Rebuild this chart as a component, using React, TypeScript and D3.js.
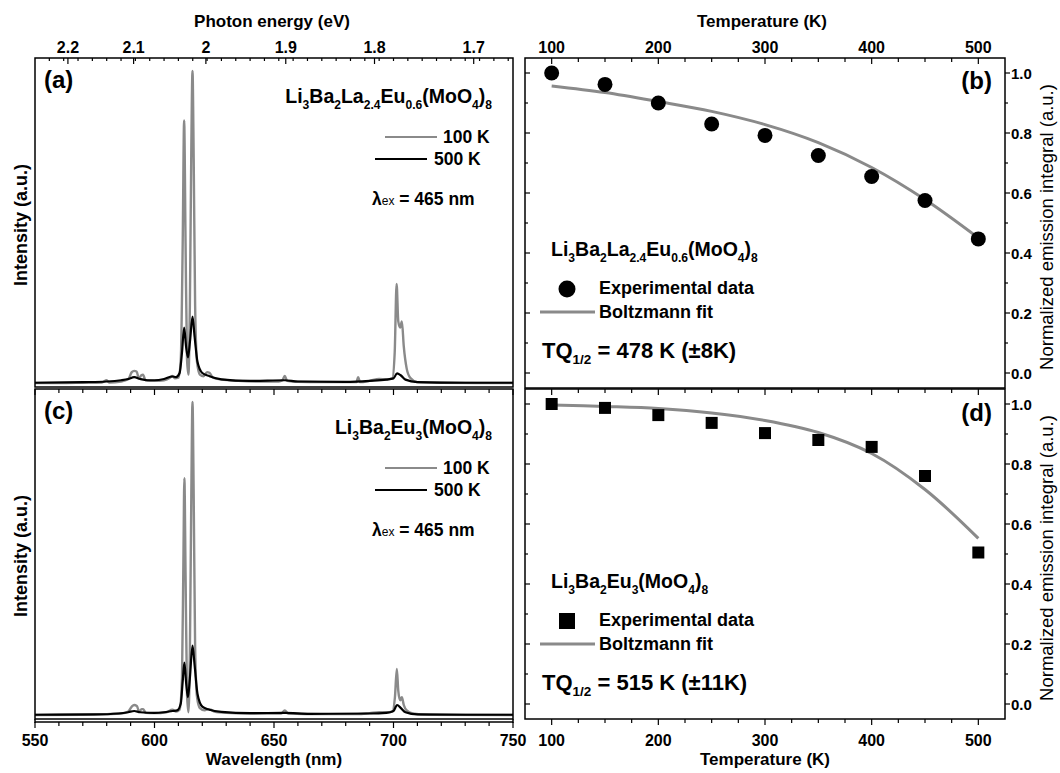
import React from "react";
import * as d3 from "d3";

const W = 1060;
const H = 773;
const FONT = "'Liberation Sans', Arial, sans-serif";
const GRAY = "#8a8a8a";

// emission spectra, [wavelength nm, normalized intensity]
const specA100: [number, number][] = [
  [550, 0.003], [560, 0.003], [570, 0.004], [578, 0.005], [580, 0.012], [581, 0.005],
  [586, 0.008], [589, 0.015], [590.5, 0.038], [591.5, 0.042], [592.5, 0.04], [593.5, 0.018],
  [594.5, 0.028], [595.2, 0.03], [596.2, 0.012], [600, 0.01], [604, 0.012], [606.5, 0.02],
  [607.5, 0.026], [608.5, 0.018], [610, 0.02], [611, 0.08], [611.8, 0.45], [612.4, 0.842],
  [613, 0.45], [613.6, 0.08], [614.2, 0.03], [614.8, 0.25], [615.4, 0.75], [615.9, 1.0],
  [616.4, 0.72], [617, 0.25], [617.8, 0.07], [619, 0.03], [620.5, 0.025], [622, 0.038],
  [623, 0.036], [624.5, 0.02], [628, 0.014], [635, 0.01], [645, 0.008], [652, 0.008],
  [653.5, 0.012], [654.5, 0.026], [655.5, 0.01], [660, 0.007], [670, 0.006], [680, 0.006],
  [684.5, 0.006], [685.2, 0.022], [686, 0.006], [690, 0.01], [694, 0.016], [697, 0.015],
  [699.5, 0.018], [700.5, 0.1], [701.3, 0.32], [702, 0.2], [702.8, 0.18], [703.5, 0.2],
  [704.3, 0.12], [705.5, 0.05], [707, 0.02], [710, 0.006], [720, 0.004], [735, 0.003], [750, 0.003],
];
const specA500: [number, number][] = [
  [550, 0.004], [570, 0.006], [580, 0.008], [586, 0.012], [589, 0.016], [591.5, 0.022],
  [594, 0.016], [597, 0.012], [600, 0.012], [604, 0.016], [607.5, 0.024], [609, 0.022],
  [610.5, 0.035], [611.5, 0.1], [612.4, 0.18], [613.2, 0.12], [614, 0.085], [614.9, 0.14],
  [615.9, 0.215], [616.8, 0.15], [618, 0.07], [620, 0.035], [623, 0.025], [628, 0.015],
  [640, 0.01], [654.5, 0.012], [660, 0.008], [680, 0.007], [690, 0.01], [697, 0.014],
  [700, 0.018], [701.5, 0.034], [703, 0.028], [705, 0.014], [710, 0.006], [730, 0.004], [750, 0.004],
];
const specC100: [number, number][] = [
  [550, 0.003], [570, 0.004], [580, 0.006], [586, 0.008], [589, 0.014], [590.5, 0.03],
  [591.5, 0.035], [592.6, 0.032], [593.6, 0.014], [594.6, 0.022], [595.3, 0.022], [596.3, 0.01],
  [600, 0.009], [605, 0.012], [607.5, 0.02], [609, 0.014], [610.5, 0.02], [611.5, 0.12],
  [612.1, 0.5], [612.5, 0.757], [613, 0.45], [613.6, 0.07], [614.2, 0.012], [614.8, 0.2],
  [615.4, 0.7], [615.9, 1.0], [616.4, 0.7], [617, 0.22], [617.8, 0.06], [619, 0.025],
  [621, 0.018], [622.5, 0.022], [623.5, 0.02], [625, 0.014], [630, 0.01], [640, 0.008],
  [653, 0.008], [654.5, 0.018], [656, 0.008], [670, 0.006], [685, 0.006], [690, 0.009],
  [694, 0.012], [697, 0.012], [699.5, 0.014], [700.6, 0.06], [701.4, 0.15], [702, 0.08],
  [702.8, 0.05], [703.5, 0.06], [704.3, 0.035], [705.5, 0.018], [708, 0.008], [715, 0.004], [750, 0.003],
];
const specC500: [number, number][] = [
  [550, 0.004], [575, 0.005], [585, 0.008], [589, 0.012], [591.5, 0.016], [594, 0.012],
  [600, 0.01], [604, 0.012], [607.5, 0.016], [609.5, 0.018], [611, 0.04], [611.8, 0.11],
  [612.5, 0.17], [613.3, 0.1], [614, 0.06], [614.8, 0.12], [615.9, 0.224], [616.8, 0.16],
  [618, 0.07], [620, 0.03], [623, 0.02], [628, 0.013], [640, 0.009], [654.5, 0.01],
  [665, 0.007], [690, 0.008], [697, 0.01], [700, 0.016], [701.5, 0.035], [703, 0.026],
  [705, 0.012], [710, 0.005], [730, 0.004], [750, 0.004],
];

// thermal quenching
const temps = [100, 150, 200, 250, 300, 350, 400, 450, 500];
const intB = [1.0, 0.962, 0.9, 0.83, 0.792, 0.725, 0.655, 0.575, 0.447];
const intD = [1.0, 0.987, 0.963, 0.937, 0.903, 0.88, 0.857, 0.76, 0.505];
const fitB = [0.957, 0.935, 0.905, 0.872, 0.828, 0.768, 0.685, 0.578, 0.45];
const fitD = [0.997, 0.992, 0.985, 0.97, 0.945, 0.905, 0.835, 0.715, 0.552];

const wlTicks = [550, 600, 650, 700, 750];
const energyTicks = [2.2, 2.1, 2.0, 1.9, 1.8, 1.7];
const energyLabels = ["2.2", "2.1", "2", "1.9", "1.8", "1.7"];
const tempTicks = [100, 200, 300, 400, 500];
const normTicks = [0, 0.2, 0.4, 0.6, 0.8, 1.0];

// layout
const LX = [35, 513];
const RX = [525, 1005];
const TOP = [58, 387];
const BOT = [389, 719];

const xW = d3.scaleLinear().domain([550, 750]).range(LX);
// top axis positions calibrated from the figure
const xE = (e: number) => xW(1270 / e - 13.5);
const xT = d3.scaleLinear().domain([75, 525]).range(RX);
const yB = d3.scaleLinear().domain([-0.05, 1.05]).range([388, 58]);
const yD = d3.scaleLinear().domain([-0.05, 1.05]).range([719, 389]);
const yA = d3.scaleLinear().domain([0, 1]).range([384, 71]);
const yC = d3.scaleLinear().domain([0, 1]).range([716, 402]);

const specLine = (ys: d3.ScaleLinear<number, number>) =>
  d3.line<[number, number]>().x((d) => xW(d[0])).y((d) => ys(d[1])).curve(d3.curveMonotoneX);

const fitLine = (ys: d3.ScaleLinear<number, number>) =>
  d3.line<number>().x((_, i) => xT(temps[i])).y((d) => ys(d)).curve(d3.curveCatmullRom);

type Part = [string, boolean];
const Formula = ({ x, y, parts, size, anchor = "start" }: { x: number; y: number; parts: Part[]; size: number; anchor?: string }) => {
  let prevSub = false;
  return (
    <text x={x} y={y} fontSize={size} fontWeight="bold" textAnchor={anchor}>
      {parts.map(([t, sub], i) => {
        const dy = sub && !prevSub ? size * 0.3 : !sub && prevSub ? -size * 0.3 : 0;
        prevSub = sub;
        return (
          <tspan key={i} dy={dy} fontSize={sub ? size * 0.62 : size}>
            {t}
          </tspan>
        );
      })}
    </text>
  );
};

const formulaLa: Part[] = [["Li", false], ["3", true], ["Ba", false], ["2", true], ["La", false], ["2.4", true], ["Eu", false], ["0.6", true], ["(MoO", false], ["4", true], [")", false], ["8", true]];
const formulaEu: Part[] = [["Li", false], ["3", true], ["Ba", false], ["2", true], ["Eu", false], ["3", true], ["(MoO", false], ["4", true], [")", false], ["8", true]];

const SpectrumPanel = ({ y0, y1, ys, s100, s500, label, formula, dy }: any) => (
  <g>
    <path d={specLine(ys)(s100) || ""} fill="none" stroke={GRAY} strokeWidth={2.4} />
    <path d={specLine(ys)(s500) || ""} fill="none" stroke="#000" strokeWidth={2.2} />
    <rect x={LX[0]} y={y0} width={LX[1] - LX[0]} height={y1 - y0} fill="none" stroke="#000" strokeWidth={1.5} />
    <text x={44} y={88 + dy} fontSize={24} fontWeight="bold">{label}</text>
    <Formula x={492} y={103 + dy} parts={formula} size={19.5} anchor="end" />
    <line x1={385} x2={437} y1={137 + dy} y2={137 + dy} stroke={GRAY} strokeWidth={2} />
    <text x={443} y={143 + dy} fontSize={17.5} fontWeight="bold">100 K</text>
    <line x1={375} x2={427} y1={159 + dy} y2={159 + dy} stroke="#000" strokeWidth={2} />
    <text x={434} y={165 + dy} fontSize={17.5} fontWeight="bold">500 K</text>
    <text x={372} y={205 + dy} fontSize={17.5} fontWeight="bold">
      λ<tspan fontSize={12} fontWeight="normal">ex</tspan> = 465 nm
    </text>
  </g>
);

const QuenchPanel = ({ y0, y1, ys, vals, fit, label, formula, dy, square, tq, err }: any) => (
  <g>
    <rect x={RX[0]} y={y0} width={RX[1] - RX[0]} height={y1 - y0} fill="none" stroke="#000" strokeWidth={1.5} />
    {d3.range(0, 1.01, 0.1).map((v) => {
      const major = Math.round(v * 10) % 2 === 0;
      const yy = ys(v);
      return (
        <g key={v}>
          <line x1={RX[1]} x2={RX[1] + (major ? 5 : 3)} y1={yy} y2={yy} stroke="#000" strokeWidth={1.2} />
          <line x1={RX[0]} x2={RX[0] + (major ? 5 : 3)} y1={yy} y2={yy} stroke="#000" strokeWidth={1.2} />
        </g>
      );
    })}
    {normTicks.map((v) => (
      <text key={v} x={1011} y={ys(v) + 5.5} fontSize={15} fontWeight="bold">{v.toFixed(1)}</text>
    ))}
    <path d={fitLine(ys)(fit) || ""} fill="none" stroke={GRAY} strokeWidth={3} />
    {vals.map((v: number, i: number) =>
      square ? (
        <rect key={i} x={xT(temps[i]) - 6} y={ys(v) - 6} width={12} height={12} fill="#000" />
      ) : (
        <circle key={i} cx={xT(temps[i])} cy={ys(v)} r={7.5} fill="#000" />
      )
    )}
    <text x={992} y={89 + dy} fontSize={24} fontWeight="bold" textAnchor="end">{label}</text>
    <Formula x={551} y={256 + dy} parts={formula} size={19.5} />
    {square ? (
      <rect x={559} y={281 + dy} width={16} height={16} fill="#000" />
    ) : (
      <circle cx={567} cy={289 + dy} r={8.5} fill="#000" />
    )}
    <text x={599} y={294 + dy} fontSize={18} fontWeight="bold">Experimental data</text>
    <line x1={540} x2={595} y1={312 + dy} y2={312 + dy} stroke={GRAY} strokeWidth={3} />
    <text x={599} y={318 + dy} fontSize={18} fontWeight="bold">Boltzmann fit</text>
    <text x={542} y={358 + dy} fontSize={22} fontWeight="bold">
      TQ<tspan fontSize={13.5} dy={6}>1/2</tspan>
      <tspan dy={-6}> = {tq} K (±{err}K)</tspan>
    </text>
    <text
      transform={`translate(1053,${(y0 + y1) / 2 + 4}) rotate(-90)`}
      fontSize={18.5}
      textAnchor="middle"
    >
      Normalized emission integral (a.u.)
    </text>
  </g>
);

export default function App() {
  const wlMinor = d3.range(550, 751, 10);
  const eMinor = d3.range(556, 750, 6);
  const tMinor = d3.range(100, 501, 25);
  return (
    <svg
      width={W}
      height={H}
      style={{ display: "block", position: "absolute", left: 0, top: 0, fontFamily: FONT, background: "#fff" }}
    >
      <rect width={W} height={H} fill="#fff" />

      <SpectrumPanel y0={TOP[0]} y1={TOP[1]} ys={yA} s100={specA100} s500={specA500} label="(a)" formula={formulaLa} dy={0} />
      <SpectrumPanel y0={BOT[0]} y1={BOT[1]} ys={yC} s100={specC100} s500={specC500} label="(c)" formula={formulaEu} dy={331} />
      <line x1={LX[0]} x2={LX[1]} y1={722} y2={722} stroke="#000" strokeWidth={1.5} />
      <line x1={LX[0]} x2={LX[0]} y1={719} y2={723} stroke="#000" strokeWidth={1.5} />
      <line x1={LX[1]} x2={LX[1]} y1={719} y2={723} stroke="#000" strokeWidth={1.5} />

      {/* top energy axis */}
      {eMinor.map((w) => (
        <line key={w} x1={xW(w)} x2={xW(w)} y1={58} y2={61} stroke="#000" strokeWidth={1.2} />
      ))}
      {energyTicks.map((e, i) => (
        <g key={e}>
          <line x1={xE(e)} x2={xE(e)} y1={58} y2={64} stroke="#000" strokeWidth={1.2} />
          <text x={xE(e)} y={53} fontSize={16} fontWeight="bold" textAnchor="middle">{energyLabels[i]}</text>
        </g>
      ))}
      <text x={272} y={27} fontSize={17} fontWeight="bold" textAnchor="middle">Photon energy (eV)</text>

      {/* wavelength ticks: divider (inward) and bottom (outward) */}
      {wlMinor.map((w) => {
        const major = w % 50 === 0;
        return (
          <g key={w}>
            <line x1={xW(w)} x2={xW(w)} y1={389} y2={389 + (major ? 6 : 4)} stroke="#000" strokeWidth={1.2} />
            <line x1={xW(w)} x2={xW(w)} y1={722} y2={722 + (major ? 6 : 4)} stroke="#000" strokeWidth={1.2} />
          </g>
        );
      })}
      {wlTicks.map((w) => (
        <text key={w} x={xW(w)} y={746} fontSize={16} fontWeight="bold" textAnchor="middle">{w}</text>
      ))}
      <text x={274} y={765} fontSize={17} fontWeight="bold" textAnchor="middle">Wavelength (nm)</text>
      {[225, 556].map((cy) => (
        <text key={cy} transform={`translate(27,${cy}) rotate(-90)`} fontSize={18} fontWeight="bold" textAnchor="middle">
          Intensity (a.u.)
        </text>
      ))}

      <QuenchPanel y0={58} y1={388} ys={yB} vals={intB} fit={fitB} label="(b)" formula={formulaLa} dy={0} square={false} tq={478} err={8} />
      <QuenchPanel y0={389} y1={719} ys={yD} vals={intD} fit={fitD} label="(d)" formula={formulaEu} dy={332} square={true} tq={515} err={11} />

      {/* temperature axes */}
      {tMinor.map((t) => {
        const major = t % 100 === 0;
        const len = major ? 6 : 4;
        return (
          <g key={t}>
            <line x1={xT(t)} x2={xT(t)} y1={58} y2={58 + len} stroke="#000" strokeWidth={1.2} />
            <line x1={xT(t)} x2={xT(t)} y1={389} y2={389 + len} stroke="#000" strokeWidth={1.2} />
            <line x1={xT(t)} x2={xT(t)} y1={719} y2={719 + len} stroke="#000" strokeWidth={1.2} />
          </g>
        );
      })}
      {tempTicks.map((t) => (
        <g key={t}>
          <text x={xT(t)} y={53} fontSize={16} fontWeight="bold" textAnchor="middle">{t}</text>
          <text x={xT(t)} y={746} fontSize={16} fontWeight="bold" textAnchor="middle">{t}</text>
        </g>
      ))}
      <text x={762} y={27} fontSize={17} fontWeight="bold" textAnchor="middle">Temperature (K)</text>
      <text x={765} y={765} fontSize={17} fontWeight="bold" textAnchor="middle">Temperature (K)</text>
    </svg>
  );
}
